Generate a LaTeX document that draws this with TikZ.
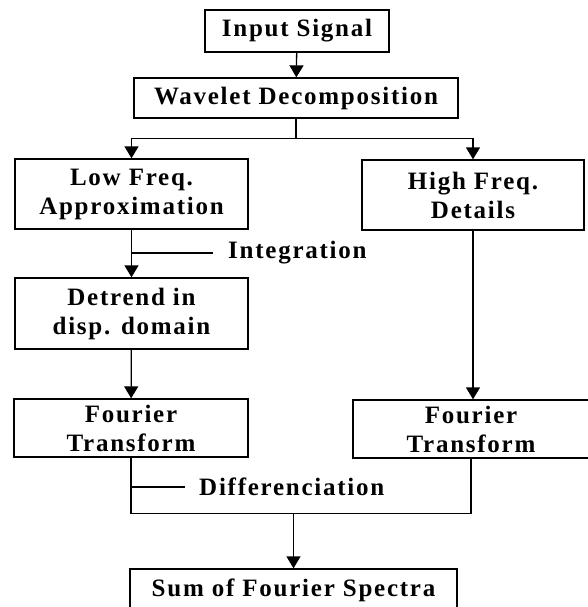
\documentclass[tikz,border=0pt]{standalone}
\usepackage{fontspec}
\setmainfont{Liberation Serif}[LetterSpace=7]
\usetikzlibrary{arrows.meta}

\begin{document}
\begin{tikzpicture}[x=1pt, y=1pt,
    box/.style={draw, line width=1.3pt, inner sep=0pt, align=center,
      font=\bfseries\fontsize{25}{29}\selectfont},
    lbl/.style={inner sep=0pt, anchor=west, font=\bfseries\fontsize{25}{29}\selectfont},
    arr/.style={line width=1.3pt, -{Triangle[width=14pt, length=12pt]}},
    line/.style={line width=1.3pt}]
      \useasboundingbox (0,0) rectangle (587,-607);

      \node[box, minimum width=184pt, minimum height=42pt] (input) at (297,-31) {Input Signal};
      \node[box, minimum width=324pt, minimum height=40pt] (wavelet) at (296,-98) {Wavelet Decomposition};
      \node[box, minimum width=233pt, minimum height=70pt] (low) at (131.5,-194) {Low Freq.\\Approximation};
      \node[box, minimum width=222pt, minimum height=70pt] (high) at (473,-195) {High Freq.\\Details};
      \node[box, minimum width=233pt, minimum height=71pt] (detrend) at (131.5,-313.5) {Detrend in\\disp. domain};
      \node[box, minimum width=234pt, minimum height=58pt] (fourl) at (131,-428) {Fourier\\Transform};
      \node[box, minimum width=236pt, minimum height=58pt] (fourr) at (471,-429) {Fourier\\Transform};
      \node[box, minimum width=327pt, minimum height=42pt] (sum) at (293.5,-590) {Sum of Fourier Spectra};

      \node[lbl] (integ) at (228,-253) {Integration};
      \node[lbl] (diff) at (199,-487) {Differenciation};

      \draw[arr] (input) -- (wavelet);
      \draw[line] (wavelet.south) -- ++(0,-20) coordinate (split);
      \draw[arr] (split) -| (low.north);
      \draw[arr] (split) -| (high.north);
      \draw[arr] (low) -- (detrend);
      \draw[line, shorten >=15pt] (low.south |- integ.west) -- (integ.west);
      \draw[arr] (detrend) -- (fourl);
      \draw[arr] (high.south) -- (high.south |- fourr.north);
      \draw[line] (fourl.south) -- ++(0,-56) coordinate (joinl) -| (fourr.south);
      \draw[line, shorten >=14pt] (fourl.south |- diff.west) -- (diff.west);
      \draw[arr] (sum.north |- joinl) -- (sum.north);
    \end{tikzpicture}
\end{document}
